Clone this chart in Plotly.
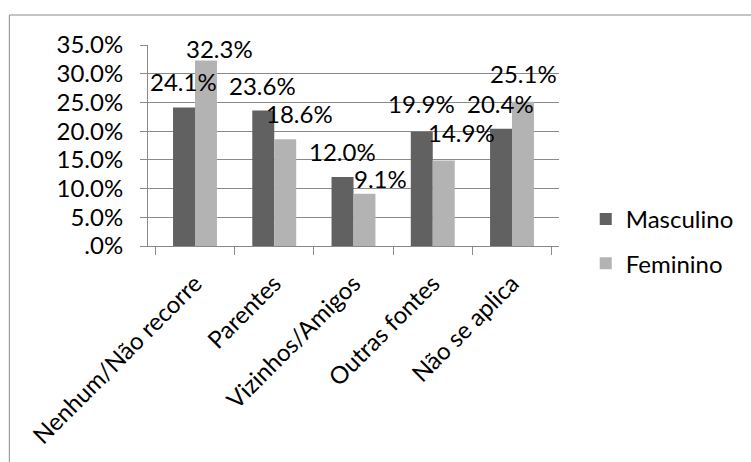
import plotly.graph_objects as go

# Categories and series values (percent)
categorias = ["Nenhum/Não recorre", "Parentes", "Vizinhos/Amigos", "Outras fontes", "Não se aplica"]
masculino = [24.1, 23.6, 12.0, 19.9, 20.4]
feminino = [32.3, 18.6, 9.1, 14.9, 25.1]
tick_vals = [0, 5, 10, 15, 20, 25, 30, 35]
tick_text = [".0%", "5.0%", "10.0%", "15.0%", "20.0%", "25.0%", "30.0%", "35.0%"]

# Label placement tweaks (pixels: horizontal nudge, height above bar top)
desloc_masc = [(0, 26), (0, 25), (0, 26), (0, 28), (0, 25)]
desloc_fem = [(13, 12), (14, 26), (16, 15), (17, 28), (0, 28)]

FONT = "Lato"
FS = 24
COR_ESCURA = "#616161"
COR_CLARA = "#b3b3b3"
COR_LINHA = "#8a8a8a"

W, H = 751, 462
ML, MR, MT, MB = 148, 188, 45, 216

fig = go.Figure()
fig.add_bar(name="Masculino", x=categorias, y=masculino, marker_color=COR_ESCURA,
            marker_line_width=0, legendgroup="m")
fig.add_bar(name="Feminino", x=categorias, y=feminino, marker_color=COR_CLARA,
            marker_line_width=0, legendgroup="f")

plot_w = W - ML - MR
cat_w = plot_w / len(categorias)
bargap = 0.446
bar_w = cat_w * (1 - bargap) / 2

for i, cat in enumerate(categorias):
    for val, (dx, dy), sign in ((masculino[i], desloc_masc[i], -1), (feminino[i], desloc_fem[i], 1)):
        fig.add_annotation(x=cat, y=val, xref="x", yref="y", text=f"{val:.1f}%",
                           showarrow=False, xanchor="center", yanchor="middle",
                           xshift=sign * bar_w / 2 + dx, yshift=dy,
                           font=dict(family=FONT, size=FS, color="black"))

# Outer chart frame
def px_to_paper_x(px):
    return (px - ML) / plot_w

def px_to_paper_y(py):
    return (H - MB - py) / (H - MT - MB)

fig.add_shape(type="rect", xref="paper", yref="paper",
              x0=px_to_paper_x(8), y0=px_to_paper_y(475),
              x1=px_to_paper_x(770), y1=px_to_paper_y(15),
              line=dict(color=COR_LINHA, width=1), fillcolor="rgba(0,0,0,0)", layer="below")

fig.update_layout(
    width=W, height=H,
    margin=dict(l=ML, r=MR, t=MT, b=MB),
    paper_bgcolor="white", plot_bgcolor="white",
    barmode="group", bargap=bargap, bargroupgap=0,
    font=dict(family=FONT, size=FS, color="black"),
    legend=dict(x=px_to_paper_x(590), y=px_to_paper_y(197), xanchor="left", yanchor="top",
                xref="paper", yref="paper",
                font=dict(family=FONT, size=FS, color="black"),
                traceorder="grouped", tracegroupgap=10, bgcolor="rgba(0,0,0,0)"),
    showlegend=True,
)
fig.update_xaxes(showline=True, linecolor=COR_LINHA, linewidth=1, ticks="outside",
                 tickson="boundaries", ticklen=8, tickcolor=COR_LINHA, tickangle=-45,
                 ticklabelstandoff=13, automargin=False,
                 showgrid=False, tickfont=dict(family=FONT, size=FS, color="black"))
fig.update_yaxes(range=[0, 35], tickvals=tick_vals, ticktext=tick_text,
                 showline=True, linecolor=COR_LINHA, linewidth=1, ticks="outside",
                 ticklen=7, tickcolor=COR_LINHA, showgrid=True, gridcolor=COR_LINHA,
                 gridwidth=1, zeroline=False, ticklabelstandoff=12, automargin=False,
                 tickfont=dict(family=FONT, size=FS, color="black"))

fig.write_html("out.html")
